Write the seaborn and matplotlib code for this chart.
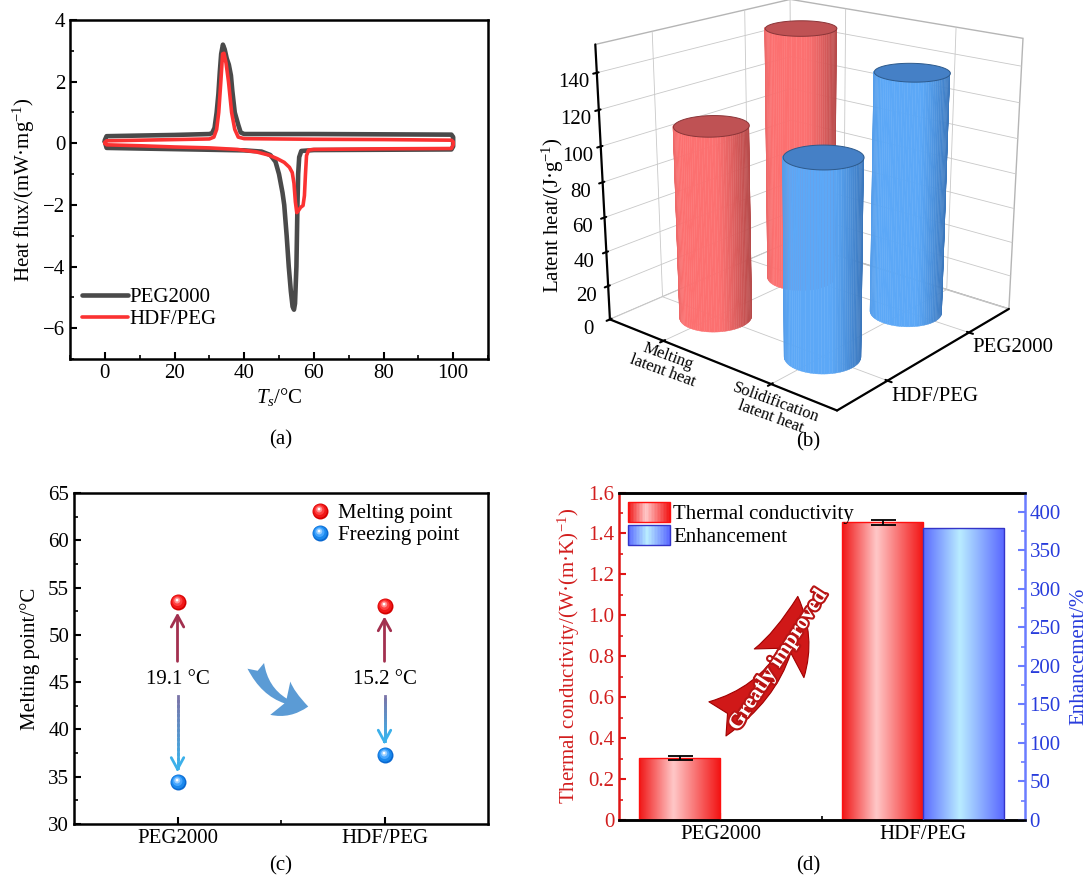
import numpy as np
import pandas as pd
import matplotlib
matplotlib.use("Agg")
import matplotlib.pyplot as plt
import seaborn as sns
from matplotlib.patches import FancyArrowPatch, Rectangle
from matplotlib.legend_handler import HandlerBase, HandlerTuple
from matplotlib.lines import Line2D
from matplotlib.path import Path
from matplotlib.colors import LinearSegmentedColormap
from matplotlib.collections import LineCollection
from matplotlib.ticker import MultipleLocator, FuncFormatter, FixedLocator
from mpl_toolkits.mplot3d.art3d import Poly3DCollection
import matplotlib.patheffects as pe

# ---------------- data ----------------
# (a) DSC loops (temperature / heat flux)
peg_T = [0.0, 0.5, 10, 20, 30, 40, 45, 47.5, 49.0, 50.0, 51.0, 51.5, 52.2, 52.8, 53.4, 53.9,
         54.3, 54.6, 55.0, 55.3, 55.5, 55.8, 56.4, 60, 80, 99.5, 100.0, 100.0, 99.5, 80, 60,
         40, 39.0, 38.3, 37.3, 36.6, 36.2, 35.6, 35.0, 34.4, 33.9, 33.4, 33.0, 32.6, 32.1,
         31.5, 30.8, 30.0, 20, 10, 0.5, 0.0, 0.0]
peg_H = [0.05, -0.15, -0.17, -0.19, -0.21, -0.23, -0.27, -0.38, -0.6, -1.0, -1.6, -2.0, -3.0,
         -4.0, -4.8, -5.3, -5.4, -5.2, -4.0, -2.0, -1.0, -0.45, -0.25, -0.22, -0.21, -0.2,
         -0.1, 0.2, 0.28, 0.29, 0.3, 0.3, 0.35, 0.6, 1.0, 1.7, 2.2, 2.55, 2.75, 3.05, 3.2,
         2.9, 2.3, 1.6, 1.0, 0.5, 0.33, 0.3, 0.27, 0.25, 0.23, 0.1, 0.05]
hdf_T = [0.0, 0.5, 10, 20, 30, 38, 43.5, 47, 49.5, 51.5, 53.0, 53.8, 54.3, 54.7, 55.1, 55.5,
         56.2, 56.9, 57.3, 57.6, 57.9, 58.5, 60, 80, 99.5, 100.0, 100.0, 99.5, 80, 60, 40,
         38.3, 37.3, 36.4, 35.5, 34.8, 34.2, 33.8, 33.3, 32.7, 32.1, 31.3, 30, 20, 10, 0.5,
         0.0, 0.0]
hdf_H = [0.0, -0.05, -0.08, -0.12, -0.15, -0.2, -0.28, -0.38, -0.5, -0.62, -0.78, -0.95, -1.3,
         -1.9, -2.25, -2.2, -2.08, -2.02, -1.7, -1.0, -0.4, -0.22, -0.2, -0.18, -0.17, -0.05,
         0.05, 0.1, 0.12, 0.13, 0.15, 0.2, 0.45, 1.0, 2.0, 2.6, 2.92, 2.9, 2.0, 1.0, 0.45,
         0.2, 0.14, 0.12, 0.1, 0.08, 0.03, 0.0]

# (b) latent heat
lat_cats = ["Melting\nlatent heat", "Solidification\nlatent heat"]
lat_samples = ["HDF/PEG", "PEG2000"]
hdf_latent = [110.4, 109.1]
peg_latent = [150.5, 137.8]

# (c) phase-change temperatures
samples = ["PEG2000", "HDF/PEG"]
melting_pt = [53.5, 53.1]
freezing_pt = [34.4, 37.3]
gap_labels = ["19.1 \u00b0C", "15.2 \u00b0C"]

# (d) thermal conductivity
tc = [0.304, 1.455]
tc_err = [0.010, 0.012]
enh_samples = ["HDF/PEG"]
enhancement = [378.6]
kinds = ["Thermal conductivity", "Enhancement"]

# ---------------- style ----------------
sns.set_theme(style="ticks")
plt.rcParams.update({
    "font.family": ["Liberation Serif", "DejaVu Serif"],
    "mathtext.fontset": "custom",
    "mathtext.rm": "Liberation Serif",
    "mathtext.it": "Liberation Serif:italic",
    "mathtext.bf": "Liberation Serif:bold",
    "font.size": 15,
    "legend.fontsize": 15,
    "axes.linewidth": 1.8,
    "axes.edgecolor": "black",
    "axes.labelcolor": "black",
    "text.color": "black",
    "xtick.color": "black",
    "ytick.color": "black",
    "xtick.direction": "in",
    "ytick.direction": "in",
    "xtick.major.size": 5,
    "ytick.major.size": 5,
    "xtick.minor.size": 3,
    "ytick.minor.size": 3,
    "xtick.major.width": 1.5,
    "ytick.major.width": 1.5,
    "xtick.minor.width": 1.2,
    "ytick.minor.width": 1.2,
    "xtick.labelsize": 15,
    "ytick.labelsize": 15,
    "axes.labelsize": 15,
    "grid.color": "#c8c8c8",
    "grid.linewidth": 0.6,
})

W, H = 1090, 876
fig = plt.figure(figsize=(W / 100, H / 100), dpi=100)


def rect(l, t, r, b):
    return [l / W, 1 - b / H, (r - l) / W, (b - t) / H]


# ---------------- (a) ----------------
axA = fig.add_axes(rect(70, 20, 488, 359))
sns.lineplot(x=peg_T, y=peg_H, sort=False, estimator=None, color="#4a4a4a", lw=3.3,
             ax=axA, solid_joinstyle="round", solid_capstyle="round")
sns.lineplot(x=hdf_T, y=hdf_H, sort=False, estimator=None, color="#fb3232", lw=2.6,
             ax=axA, solid_joinstyle="round", solid_capstyle="round")
axA.set_xlim(-10, 110)
axA.set_ylim(-7, 4)
axA.xaxis.set_major_locator(MultipleLocator(20))
axA.xaxis.set_minor_locator(MultipleLocator(10))
axA.yaxis.set_major_locator(MultipleLocator(2))
axA.yaxis.set_minor_locator(MultipleLocator(1))
axA.set_xlabel("$T_s$/\u00b0C", labelpad=2)
axA.set_ylabel("Heat flux/(mW\u00b7mg$^{-1}$)", labelpad=4)
legA = [Line2D([], [], color="#4a4a4a", lw=3.3), Line2D([], [], color="#fb3232", lw=2.6)]
axA.legend(legA, ["PEG2000", "HDF/PEG"], loc="lower left", bbox_to_anchor=(-0.005, 0.045),
           frameon=False, handlelength=2.2, handletextpad=0.05, labelspacing=0.1,
           borderaxespad=0.3, fontsize=15)
fig.text(281 / W, 1 - 440 / H, "(a)", ha="center", va="center", fontsize=15)

# ---------------- (b) 3D ----------------
BOX = (1.05, 1.0, 1.01)
XL, YL = (-0.55, 1.55), (-0.55, 1.55)
XR, YR = XL[1] - XL[0], YL[1] - YL[0]
AZIM, ELEV = -50, 19
axB = fig.add_axes([0.458, 0.499, 0.56, 0.57], projection="3d", computed_zorder=False)
axB.set_facecolor("none")
axB.set_proj_type("persp", focal_length=0.5)
axB.view_init(elev=ELEV, azim=AZIM)
axB.set_box_aspect(BOX, zoom=0.98)


def draw_cylinder(ax, xc, yc, h, light, dark, cap, cap_edge, zo):
    n = 90
    th = np.linspace(0, 2 * np.pi, n + 1)
    R = 0.13
    sx, sy = R * XR / BOX[0], R * YR / BOX[1]
    a = np.deg2rad(AZIM)
    quads, cols = [], []
    for i in range(n):
        tm = 0.5 * (th[i] + th[i + 1])
        if np.cos(tm - a) < -0.1:
            continue
        s = np.sin(tm - a)
        t = np.clip((s - 0.15) / 0.85, 0, 1) ** 1.3 * 0.95 + np.clip((-s - 0.8) / 0.2, 0, 1) * 0.2
        c = (1 - t) * np.array(light) + t * np.array(dark)
        x0, x1 = xc + sx * np.cos(th[i]), xc + sx * np.cos(th[i + 1])
        y0, y1 = yc + sy * np.sin(th[i]), yc + sy * np.sin(th[i + 1])
        quads.append([(x0, y0, 0), (x1, y1, 0), (x1, y1, h), (x0, y0, h)])
        cols.append(c)
    side = Poly3DCollection(quads, facecolors=cols, edgecolors=cols, linewidths=0.3)
    side.set_zorder(zo)
    ax.add_collection3d(side)
    ring = list(zip(xc + sx * np.cos(th), yc + sy * np.sin(th), np.full(n + 1, h)))
    top = Poly3DCollection([ring], facecolors=cap, edgecolors=cap_edge, linewidths=0.7)
    top.set_zorder(zo + 0.5)
    ax.add_collection3d(top)


red_l, red_d = (0.99, 0.44, 0.44), (0.70, 0.28, 0.28)
blu_l, blu_d = (0.36, 0.66, 0.97), (0.22, 0.45, 0.72)
cyl_colors = [(red_l, red_d, "#bf5254", "#8a3538"), (blu_l, blu_d, "#4580c6", "#2d5a8c")]
order = [(1, 0), (1, 1), (0, 0), (0, 1)]  # (sample index y, category index x), back to front
vals = {0: hdf_latent, 1: peg_latent}
for k, (yi, xi) in enumerate(order):
    l, d, cp, ce = cyl_colors[xi]
    draw_cylinder(axB, xi, yi, vals[yi][xi], l, d, cp, ce, 10 + 2 * k)

axB.set_xlim(*XL)
axB.set_ylim(*YL)
axB.set_zlim(0, 155)
for axis in (axB.xaxis, axB.yaxis, axB.zaxis):
    axis.set_pane_color((1, 1, 1, 1))
    axis.pane.set_edgecolor("#b5b5b5")
    axis.line.set_color("black")
    axis.line.set_linewidth(1.6)
axB.zaxis.set_ticks_position("lower")
axB.zaxis.set_label_position("lower")
axB.set_xticks([0, 1])
axB.set_xticklabels(lat_cats, fontsize=12, rotation=-20, linespacing=0.95)
axB.set_yticks([0, 1])
axB.set_yticklabels(lat_samples, fontsize=15, ha="left")
axB.set_zticks(np.arange(0, 141, 20))
axB.tick_params(axis="z", labelsize=15, pad=2)
axB.tick_params(axis="x", pad=-10)
axB.tick_params(axis="y", pad=-5)
fig.text(553 / W, 1 - 215 / H, "Latent heat/(J\u00b7g$^{-1}$)", rotation=90,
         ha="center", va="center", fontsize=15)
fig.text(808 / W, 1 - 442 / H, "(b)", ha="center", va="center", fontsize=15)

# ---------------- (c) ----------------
axC = fig.add_axes(rect(74, 493, 488, 824))
xpos = np.arange(1, len(samples) + 1)


def sphere_layer(cx, cy, r):
    frame = Path([(-1, -1), (1, 1)], [Path.MOVETO, Path.MOVETO])
    return Path.make_compound_path(frame, Path.circle(center=(cx, cy), radius=r))


red_layers = [("o", "#d40000"), (sphere_layer(-0.06, 0.08, 0.86), "#f01818"),
              (sphere_layer(-0.12, 0.18, 0.62), "#ff4040"),
              (sphere_layer(-0.16, 0.26, 0.38), "#ff9090"),
              (sphere_layer(-0.18, 0.30, 0.17), "#ffffff")]
blue_layers = [("o", "#0a68d0"), (sphere_layer(-0.06, 0.08, 0.86), "#1a88ec"),
               (sphere_layer(-0.12, 0.18, 0.62), "#46a6ff"),
               (sphere_layer(-0.16, 0.26, 0.38), "#98ceff"),
               (sphere_layer(-0.18, 0.30, 0.17), "#ffffff")]
MS = 11.5
sns.scatterplot(x=xpos, y=melting_pt, color=red_layers[0][1], s=MS ** 2, linewidth=0,
                ax=axC, zorder=5, legend=False)
sns.scatterplot(x=xpos, y=freezing_pt, color=blue_layers[0][1], s=MS ** 2, linewidth=0,
                ax=axC, zorder=5, legend=False)
for m, c in red_layers[1:]:
    axC.scatter(xpos, melting_pt, marker=m, color=c, s=MS ** 2, linewidths=0, zorder=6)
for m, c in blue_layers[1:]:
    axC.scatter(xpos, freezing_pt, marker=m, color=c, s=MS ** 2, linewidths=0, zorder=6)

text_y = 45.3
dn_cm = LinearSegmentedColormap.from_list("dn", ["#7a74a8", "#3bb0ea"])
for x, mp, fp, lab in zip(xpos, melting_pt, freezing_pt, gap_labels):
    axC.text(x, text_y, lab, ha="center", va="center", fontsize=15)
    axC.annotate("", xy=(x, mp - 1.15), xytext=(x, text_y + 1.9),
                 arrowprops=dict(arrowstyle="->,head_length=0.55,head_width=0.3",
                                 color="#a2304f", lw=2.0, shrinkA=0, shrinkB=0))
    ys = np.linspace(text_y - 1.8, fp + 1.5, 16)
    segs = [[(x, ys[i]), (x, ys[i + 1])] for i in range(len(ys) - 1)]
    axC.add_collection(LineCollection(segs, colors=dn_cm(np.linspace(0, 1, len(segs))),
                                      lw=2.0, capstyle="projecting"))
    axC.annotate("", xy=(x, fp + 1.1), xytext=(x, fp + 1.6),
                 arrowprops=dict(arrowstyle="->,head_length=0.55,head_width=0.3",
                                 color="#3bb0ea", lw=2.0, shrinkA=0, shrinkB=0))
axC.add_patch(FancyArrowPatch((1.374, 47.0), (1.645, 42.4),
                              connectionstyle="arc3,rad=0.35",
                              arrowstyle="fancy,head_length=1.5,head_width=2.0,tail_width=0.9",
                              mutation_scale=14, color="#5b9bd5", lw=0))
axC.set_xlim(0.5, 2.5)
axC.set_ylim(30, 65)
axC.xaxis.set_major_locator(FixedLocator(xpos))
axC.set_xticklabels(samples)
axC.xaxis.set_minor_locator(FixedLocator([1.5]))
axC.yaxis.set_major_locator(MultipleLocator(5))
axC.yaxis.set_minor_locator(MultipleLocator(2.5))
axC.set_ylabel("Melting point/\u00b0C", labelpad=6)
hr = tuple(Line2D([], [], marker=m, color=c, markersize=MS, markeredgewidth=0, ls="none")
           for m, c in red_layers)
hb = tuple(Line2D([], [], marker=m, color=c, markersize=MS, markeredgewidth=0, ls="none")
           for m, c in blue_layers)
axC.legend([hr, hb], ["Melting point", "Freezing point"], loc="upper right",
           handler_map={tuple: HandlerTuple(ndivide=1, pad=0)}, frameon=False,
           handlelength=1.0, handletextpad=0.35, labelspacing=0.12, borderaxespad=0.1,
           bbox_to_anchor=(0.955, 1.0), fontsize=15)
fig.text(281 / W, 1 - 866 / H, "(c)", ha="center", va="center", fontsize=15)

# ---------------- (d) ----------------
RED_T, BLUE_T = "#d21e1e", "#283cdc"
RED_S, BLUE_S = "#e01515", "#6a7cff"
red_cm = LinearSegmentedColormap.from_list("rg", [(0, "#f01616"), (0.42, "#ffc8c8"), (1, "#f21212")])
blue_cm = LinearSegmentedColormap.from_list("bg", [(0, "#5a6aff"), (0.45, "#b9ecff"), (1, "#5866ff")])
axD = fig.add_axes(rect(619, 492.5, 1024.7, 820))
axD2 = axD.twinx()
df_tc = pd.DataFrame({"sample": samples, "value": tc, "kind": kinds[0]})
df_en = pd.DataFrame({"sample": enh_samples, "value": enhancement, "kind": kinds[1]})
pal = {kinds[0]: "#f41a1a", kinds[1]: "#7d8cff"}
sns.barplot(data=df_tc, x="sample", y="value", hue="kind", hue_order=kinds, order=samples,
            palette=pal, dodge=True, width=0.8, errorbar=None, saturation=1, legend=False,
            ax=axD, zorder=3)
sns.barplot(data=df_en, x="sample", y="value", hue="kind", hue_order=kinds, order=samples,
            palette=pal, dodge=True, width=0.8, errorbar=None, saturation=1, legend=False,
            ax=axD2, zorder=3)
grad = np.linspace(0, 1, 256)[None, :]
for ax_, cmap, ec in ((axD, red_cm, "#ff1010"), (axD2, blue_cm, "#3434c8")):
    for p in list(ax_.patches):
        hgt = p.get_height()
        if not np.isfinite(hgt) or hgt <= 0:
            continue
        x0, w = p.get_x(), p.get_width()
        im = ax_.imshow(grad, cmap=cmap, extent=[x0, x0 + w, 0, hgt], aspect="auto",
                        interpolation="bicubic", zorder=2.5)
        im.set_clip_path(p)
        p.set_facecolor("none")
        p.set_edgecolor(ec)
        p.set_linewidth(1.0)
centers = [p.get_x() + p.get_width() / 2 for p in axD.patches if p.get_height() > 0]
axD.errorbar(centers, tc, yerr=tc_err, fmt="none", ecolor="black", elinewidth=1.3,
             capsize=9, capthick=1.3, zorder=6)
axD.set_xlim(-0.5, 1.5)
axD.set_ylim(0, 1.6)
axD2.set_ylim(0, 425)
axD.xaxis.set_major_locator(FixedLocator([0, 1]))
axD.set_xticklabels(samples)
axD.xaxis.set_minor_locator(FixedLocator([0.5]))
axD.set_xlabel("")
axD2.set_xlabel("")
axD.yaxis.set_major_locator(MultipleLocator(0.2))
axD.yaxis.set_minor_locator(MultipleLocator(0.1))
axD.yaxis.set_major_formatter(FuncFormatter(lambda v, p: "0" if abs(v) < 1e-9 else f"{v:.1f}"))
axD2.yaxis.set_major_locator(MultipleLocator(50))
axD2.yaxis.set_minor_locator(MultipleLocator(25))
axD.tick_params(axis="y", which="both", colors=RED_S, labelcolor=RED_T)
axD2.tick_params(axis="y", which="both", colors=BLUE_S, labelcolor=BLUE_T, direction="in")
axD.spines["left"].set_color(RED_S)
axD.spines["right"].set_visible(False)
axD2.spines["left"].set_visible(False)
axD2.spines["right"].set_color(BLUE_S)
axD.set_ylabel("Thermal conductivity/(W\u00b7(m\u00b7K)$^{-1}$)", color=RED_T, labelpad=4)
axD2.set_ylabel("Enhancement/%", color=BLUE_T, labelpad=6)
axD.add_patch(FancyArrowPatch((-0.027, 0.488), (0.382, 1.106), connectionstyle="arc3,rad=0.3",
                              arrowstyle="fancy,head_length=2.0,head_width=1.65,tail_width=1.1",
                              mutation_scale=25, facecolor="#d01818", edgecolor="#a00000",
                              lw=0.8, zorder=4))
axD.text(0.286, 0.78, "Greatly improved", rotation=57, ha="center", va="center",
         fontsize=15.5, fontweight="bold", color="white", zorder=5,
         path_effects=[pe.withStroke(linewidth=3, foreground="#b81414")])


class GradientHandler(HandlerBase):
    def __init__(self, cmap, edge):
        super().__init__()
        self.cmap, self.edge = cmap, edge

    def create_artists(self, legend, orig_handle, xdescent, ydescent, width, height,
                       fontsize, trans):
        n = 28
        arts = []
        for i in range(n):
            arts.append(Rectangle((-xdescent + width * i / n, -ydescent), width / n * 1.1,
                                  height, facecolor=self.cmap((i + 0.5) / n),
                                  edgecolor="none", transform=trans))
        arts.append(Rectangle((-xdescent, -ydescent), width, height, facecolor="none",
                              edgecolor=self.edge, lw=1.0, transform=trans))
        return arts


h1, h2 = Rectangle((0, 0), 1, 1), Rectangle((0, 0), 1, 1)
axD2.legend([h1, h2], kinds, loc="upper left", frameon=False, handlelength=2.0,
            handleheight=1.1, handletextpad=0.15, labelspacing=0.05, borderaxespad=0.05,
            fontsize=15,
            handler_map={h1: GradientHandler(red_cm, "#ff1010"),
                         h2: GradientHandler(blue_cm, "#3434c8")})
fig.text(808 / W, 1 - 866 / H, "(d)", ha="center", va="center", fontsize=15)

fig.savefig("out.png", dpi=100)
